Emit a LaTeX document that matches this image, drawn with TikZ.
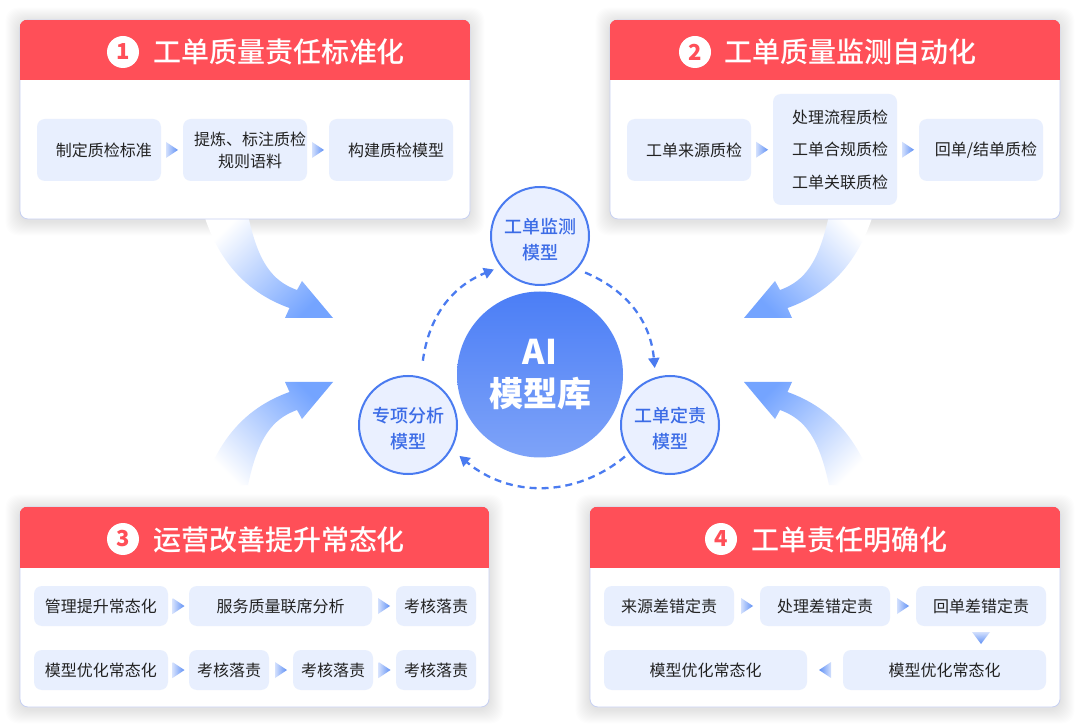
\documentclass[tikz,border=0pt]{standalone}
\usepackage{fontspec}
\setmainfont{Noto Sans CJK SC}
\newfontfamily\cjkmed{Noto Sans CJK SC Medium}
\usetikzlibrary{arrows.meta,calc,backgrounds}
\definecolor{hdr}{HTML}{FF4F58}
\definecolor{cardline}{HTML}{C7D0F2}
\definecolor{ibf}{HTML}{E8EFFE}
\definecolor{txtc}{HTML}{222222}
\definecolor{cfill}{HTML}{EAF0FF}
\definecolor{cline}{HTML}{4A7BF0}
\definecolor{ctxt}{HTML}{3C6CE6}
\definecolor{aiTop}{HTML}{4B7EF6}
\definecolor{aiBot}{HTML}{7EA3F8}
\definecolor{bigA}{HTML}{74A4FF}
\definecolor{arrL}{HTML}{D3E0FD}
\definecolor{arrR}{HTML}{5F90F5}
\newcommand\rtri[1]{\shade[left color=arrL,right color=arrR] ($(#1)+(-6,-8)$) -- ($(#1)+(6,0)$) -- ($(#1)+(-6,8)$) -- cycle;}
\newcommand\ltri[1]{\shade[left color=arrR,right color=arrL] ($(#1)+(6,-8)$) -- ($(#1)+(-6,0)$) -- ($(#1)+(6,8)$) -- cycle;}
\newcommand\dtri[1]{\shade[top color=arrL,bottom color=arrR] ($(#1)+(-9,-6)$) -- ($(#1)+(9,-6)$) -- ($(#1)+(0,6)$) -- cycle;}
\begin{document}
\begin{tikzpicture}[x=1pt,y=-1pt,
  card/.style={draw=cardline,line width=0.8pt,fill=white,rounded corners=8pt,inner sep=0pt},
  shd/.style={fill=black,opacity=0.007,rounded corners=12pt},
  ib/.style={fill=ibf,rounded corners=8pt,inner sep=0pt,text=txtc,font=\fontsize{16}{22}\selectfont,align=center},
  itxt/.style={text=txtc,font=\fontsize{16}{22}\selectfont,align=center,inner sep=0pt},
  numc/.style={circle,fill=white,minimum size=32pt,inner sep=0pt,text=hdr,font=\fontsize{22}{22}\selectfont\bfseries},
  ttl/.style={text=white,font=\fontsize{28}{28}\selectfont\cjkmed,inner sep=0pt},
  mc/.style={circle,draw=cline,line width=2pt,fill=cfill,minimum size=98pt,inner sep=0pt},
  mtxt/.style={text=ctxt,font=\fontsize{18}{26}\selectfont\cjkmed,align=center,inner sep=0pt},
  dasharr/.style={draw=cline,line width=2.3pt,dash pattern=on 7pt off 5pt,-{Triangle[length=10pt,width=11pt]}}
]
\useasboundingbox (0,0) rectangle (1080,727);

% big gradient arrows
\shade[top color=white,bottom color=bigA,shading angle=45]
  (248,215) .. controls (258,262) and (272,281) .. (297,290) -- (302,281) -- (333,318) -- (285,318) -- (289.5,308)
  .. controls (250,294) and (220,265) .. (204,215) -- cycle;
\shade[top color=white,bottom color=bigA,shading angle=-45]
  (829,215) .. controls (819,262) and (805,281) .. (780,290) -- (775,281) -- (744,318) -- (792,318) -- (787.5,308)
  .. controls (827,294) and (857,265) .. (873,215) -- cycle;
\shade[top color=white,bottom color=bigA,shading angle=135]
  (248,485) .. controls (258,438) and (272,419) .. (297,410) -- (302,419) -- (333,382) -- (285,382) -- (289.5,392)
  .. controls (250,406) and (220,435) .. (204,485) -- cycle;
\shade[top color=white,bottom color=bigA,shading angle=225]
  (829,485) .. controls (819,438) and (805,419) .. (780,410) -- (775,419) -- (744,382) -- (792,382) -- (787.5,392)
  .. controls (827,406) and (857,435) .. (873,485) -- cycle;

% cards
\node[card,minimum width=450pt,minimum height=199pt] (c1) at (245,119.5) {};
\node[card,minimum width=450pt,minimum height=199pt] (c2) at (835,119.5) {};
\node[card,minimum width=469pt,minimum height=200pt] (c3) at (254.5,607) {};
\node[card,minimum width=470pt,minimum height=200pt] (c4) at (825,607) {};
\begin{scope}[on background layer]
  \fill[white] (0,0) rectangle (1080,727);
  \foreach \c in {c1,c2,c3,c4}{
    \foreach \i in {1,...,14}{
      \fill[shd] ([shift={(-\i pt,-\i pt-2pt)}]\c.south west) rectangle ([shift={(\i pt,\i pt-2pt)}]\c.north east);
    }
  }
\end{scope}
\foreach \c/\h in {c1/60,c2/60,c3/61,c4/61}{
  \begin{scope}
    \clip[rounded corners=8pt] (\c.south west) rectangle (\c.north east);
    \fill[hdr] (\c.north west) rectangle ([yshift=-\h pt]\c.north east);
  \end{scope}
}

% titles
\node[numc] (n1) at (123,52) {1};
\node[ttl] (t1) at (279,52) {工单质量责任标准化};
\node[numc] (n2) at (695,52) {2};
\node[ttl] (t2) at (850,52) {工单质量监测自动化};
\node[numc] (n3) at (123,539) {3};
\node[ttl] (t3) at (279,540) {运营改善提升常态化};
\node[numc] (n4) at (721,539) {4};
\node[ttl] (t4) at (849.5,540) {工单责任明确化};

% card 1
\node[ib,minimum width=124pt,minimum height=62pt] (a1) at (99,150) {};
\node[itxt] (a1t) at ([xshift=5pt]a1.center) {制定质检标准};
\node[ib,minimum width=124pt,minimum height=62pt] (b1) at (245,150) {};
\node[itxt] (b1t) at ([xshift=5pt]b1.center) {提炼、标注质检\\规则语料};
\node[ib,minimum width=124pt,minimum height=62pt] (d1) at (391,150) {};
\node[itxt] (d1t) at ([xshift=5pt]d1.center) {构建质检模型};
\coordinate (m11) at ($(a1.east)!0.5!(b1.west)$); \rtri{m11}
\coordinate (m12) at ($(b1.east)!0.5!(d1.west)$); \rtri{m12}

% card 2
\node[ib,minimum width=124pt,minimum height=62pt] (a2) at (689,150) {};
\node[itxt] (a2t) at ([xshift=5pt]a2.center) {工单来源质检};
\node[ib,minimum width=124pt,minimum height=111pt] (b2) at (835,149.5) {};
\node[itxt,font=\fontsize{16}{32.5}\selectfont] (b2t) at ([xshift=5pt]b2.center) {处理流程质检\\工单合规质检\\工单关联质检};
\node[ib,minimum width=124pt,minimum height=62pt] (d2) at (981,150) {};
\node[itxt] (d2t) at ([xshift=5pt]d2.center) {回单/结单质检};
\coordinate (m21) at ($(a2.east)!0.5!(b2.west)$); \rtri{m21}
\coordinate (m22) at ($(b2.east)!0.5!(d2.west)$); \rtri{m22}

% card 3
\node[ib,minimum width=134pt,minimum height=40pt] (p1) at (101,606) {管理提升常态化};
\node[ib,minimum width=183pt,minimum height=40pt] (p2) at (280.5,606) {服务质量联席分析};
\node[ib,minimum width=80pt,minimum height=40pt] (p3) at (436,606) {考核落责};
\node[ib,minimum width=134pt,minimum height=40pt] (q1) at (101,670) {模型优化常态化};
\node[ib,minimum width=80pt,minimum height=40pt] (q2) at (229,670) {考核落责};
\node[ib,minimum width=80pt,minimum height=40pt] (q3) at (333,670) {考核落责};
\node[ib,minimum width=80pt,minimum height=40pt] (q4) at (436,670) {考核落责};
\coordinate (m31) at ($(p1.east)!0.5!(p2.west)$); \rtri{m31}
\coordinate (m32) at ($(p2.east)!0.5!(p3.west)$); \rtri{m32}
\coordinate (m33) at ($(q1.east)!0.5!(q2.west)$); \rtri{m33}
\coordinate (m34) at ($(q2.east)!0.5!(q3.west)$); \rtri{m34}
\coordinate (m35) at ($(q3.east)!0.5!(q4.west)$); \rtri{m35}

% card 4
\node[ib,minimum width=130pt,minimum height=40pt] (r1) at (669,606) {来源差错定责};
\node[ib,minimum width=130pt,minimum height=40pt] (r2) at (825,606) {处理差错定责};
\node[ib,minimum width=130pt,minimum height=40pt] (r3) at (981,606) {回单差错定责};
\node[ib,minimum width=203pt,minimum height=40pt] (s2) at (944.5,670) {模型优化常态化};
\node[ib,minimum width=203pt,minimum height=40pt] (s1) at (705.5,670) {模型优化常态化};
\coordinate (m41) at ($(r1.east)!0.5!(r2.west)$); \rtri{m41}
\coordinate (m42) at ($(r2.east)!0.5!(r3.west)$); \rtri{m42}
\coordinate (m43) at ($(r3.south)!0.5!(r3.south |- s2.north)$); \dtri{m43}
\coordinate (m44) at ($(s2.west)!0.5!(s1.east)$); \ltri{m44}

% centre
\node[circle,minimum size=166pt,inner sep=0pt,top color=aiTop,bottom color=aiBot,draw=none,
  text=white,font=\fontsize{34}{42}\selectfont\bfseries,align=center] (ai) at (540,374.5) {AI\\模型库};
\node[mc] (mT) at (540,236) {};
\node[mtxt] (mTt) at ([yshift=-4pt]mT.center) {工单监测\\模型};
\node[mc] (mL) at (408,425) {};
\node[mtxt] (mLt) at ([yshift=-4pt]mL.center) {专项分析\\模型};
\node[mc] (mR) at (670,425) {};
\node[mtxt] (mRt) at ([yshift=-4pt]mR.center) {工单定责\\模型};
\draw[dasharr] ($(mL)+(77:66pt)$) to[bend left=30] ($(mT)+(216:57pt)$);
\draw[dasharr] ($(mT)+(-39:58pt)$) to[bend left=31] ($(mR)+(105:59pt)$);
\draw[dasharr] ($(mR)+(215:55pt)$) to[bend left=40] ($(mL)+(-31:60pt)$);
\end{tikzpicture}
\end{document}
